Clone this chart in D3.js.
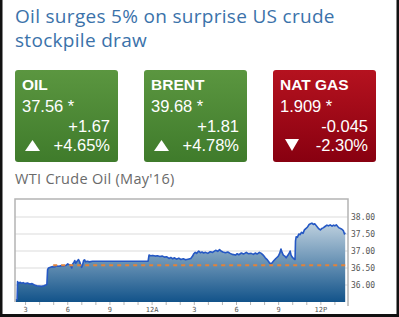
<!DOCTYPE html>
<html>
<head>
<meta charset="utf-8">
<script src="https://cdn.jsdelivr.net/npm/d3@7"></script>
<style>
  html, body { margin: 0; padding: 0; background: #fff; }
  svg { display: block; }
</style>
</head>
<body>
<svg id="chart" width="399" height="317"></svg>
<script>
// headline + quote cards
const titleLines = ['Oil surges 5% on surprise US crude', 'stockpile draw']
const tickers = ['OIL', 'BRENT', 'NAT GAS']
const lastPrices = ['37.56 *', '39.68 *', '1.909 *']
const netChanges = ['+1.67', '+1.81', '-0.045']
const pctChanges = ['+4.65%', '+4.78%', '-2.30%']
const directions = ['up', 'up', 'down']

// WTI intraday series (times 14:xx and later belong to the first day)
const chartTitle = "WTI Crude Oil (May'16)"
const times = [
  '14:20', '14:26', '14:28', '14:32', '14:38', '14:45', '14:52', '15:00', '15:10', '15:20',
  '15:30', '15:40', '15:50', '16:00', '16:10', '16:20', '16:28', '16:33', '16:36', '16:40',
  '16:48', '16:55', '17:05', '17:15', '17:25', '17:35', '17:45', '17:55', '18:02', '18:08',
  '18:14', '18:19', '18:23', '18:28', '18:32', '18:36', '18:42', '18:48', '18:53', '18:57',
  '19:01', '19:05', '19:10', '19:14', '19:18', '19:25', '19:35', '19:48', '23:45', '23:49',
  '23:55', '00:05', '00:15', '00:25', '00:35', '00:45', '00:55', '01:05', '01:14', '01:22',
  '01:30', '01:38', '01:46', '01:56', '02:05', '02:15', '02:25', '02:35', '02:47', '02:55',
  '03:00', '03:06', '03:12', '03:21', '03:28', '03:35', '03:42', '03:50', '04:00', '04:10',
  '04:20', '04:33', '04:42', '04:50', '04:56', '05:04', '05:15', '05:25', '05:35', '05:45',
  '05:58', '06:05', '06:12', '06:23', '06:32', '06:44', '06:52', '07:05', '07:14', '07:22',
  '07:30', '07:40', '07:48', '07:56', '08:05', '08:14', '08:22', '08:28', '08:35', '08:42',
  '08:50', '09:00', '09:06', '09:12', '09:17', '09:22', '09:28', '09:34', '09:40', '09:46',
  '09:51', '09:55', '10:00', '10:06', '10:12', '10:14', '10:17', '10:22', '10:28', '10:33',
  '10:40', '10:46', '10:52', '10:58', '11:05', '11:12', '11:18', '11:24', '11:30', '11:36',
  '11:42', '11:48', '11:54', '12:00', '12:06', '12:12', '12:20', '12:28', '12:35', '12:42',
  '12:50', '12:56', '13:02', '13:08', '13:14', '13:20', '13:26', '13:32', '13:38', '13:43',
  '13:46'
]
const prices = [
  35.55, 35.58, 36.10, 36.04, 36.08, 36.05, 36.07, 36.04, 36.06, 36.03,
  36.04, 36.00, 35.98, 35.97, 35.96, 35.98, 36.00, 36.02, 36.45, 36.50,
  36.52, 36.54, 36.53, 36.56, 36.55, 36.57, 36.56, 36.58, 36.62, 36.60,
  36.58, 36.50, 36.62, 36.66, 36.72, 36.64, 36.70, 36.75, 36.68, 36.60,
  36.52, 36.58, 36.72, 36.74, 36.68, 36.70, 36.68, 36.70, 36.70, 36.88,
  36.86, 36.87, 36.85, 36.86, 36.84, 36.85, 36.82, 36.83, 36.78, 36.81,
  36.77, 36.80, 36.76, 36.79, 36.75, 36.77, 36.74, 36.76, 36.78, 36.85,
  36.92, 36.96, 36.93, 37.00, 36.95, 36.97, 36.94, 36.96, 36.93, 36.98,
  36.96, 37.02, 36.99, 37.04, 37.00, 36.97, 36.95, 36.97, 36.93, 36.90,
  36.88, 36.92, 36.89, 36.94, 36.91, 36.96, 36.92, 36.93, 36.90, 36.94,
  36.91, 36.96, 36.93, 36.88, 36.80, 36.74, 36.66, 36.62, 36.66, 36.72,
  36.78, 36.84, 36.92, 37.06, 36.95, 36.88, 36.85, 36.80, 36.86, 36.92,
  37.00, 36.88, 36.82, 36.78, 36.75, 37.30, 37.42, 37.40, 37.50, 37.48,
  37.55, 37.52, 37.62, 37.66, 37.70, 37.78, 37.80, 37.82, 37.78, 37.80,
  37.75, 37.70, 37.65, 37.62, 37.66, 37.68, 37.72, 37.76, 37.74, 37.77,
  37.73, 37.76, 37.74, 37.77, 37.72, 37.68, 37.66, 37.64, 37.60, 37.50,
  37.54
]
const referencePrice = 36.58
const referenceStart = '17:00'
const yTicks = [36.0, 36.5, 37.0, 37.5, 38.0]

const svg = d3.select('#chart')
const W = 399, H = 317

// outer frame
svg.append('rect').attr('x', 0).attr('y', 0).attr('width', W).attr('height', H).attr('fill', '#fff')
svg.append('rect').attr('x', 0).attr('y', 0).attr('width', 2.5).attr('height', H).attr('fill', '#111')
svg.append('rect').attr('x', W - 2.5).attr('y', 0).attr('width', 2.5).attr('height', H).attr('fill', '#111')
svg.append('rect').attr('x', 0).attr('y', H - 3).attr('width', W).attr('height', 3).attr('fill', '#111')

// headline
svg.append('g').selectAll('text')
    .data(titleLines)
    .join('text')
    .attr('x', 15)
    .attr('y', (d, i) => 23 + i * 24)
    .attr('font-family', 'Open Sans, sans-serif')
    .attr('font-size', 19)
    .attr('letter-spacing', 0.3)
    .attr('fill', '#3b72aa')
    .text(d => d)

// gradients
const defs = svg.append('defs')
const grad = (id, top, bottom, y1, y2, units) => {
    const g = defs.append('linearGradient').attr('id', id)
        .attr('x1', 0).attr('x2', 0).attr('y1', y1).attr('y2', y2)
    if (units) g.attr('gradientUnits', units)
    g.append('stop').attr('offset', 0).attr('stop-color', top)
    g.append('stop').attr('offset', 1).attr('stop-color', bottom)
}
grad('gUp', '#5b9640', '#3f7b2b', 0, 1)
grad('gDown', '#b5121f', '#880010', 0, 1)

// quote cards
const cardX = d3.scalePoint().domain(tickers).range([15, 273])
const cardW = 103, cardH = 92, cardY = 70
const cards = svg.append('g').selectAll('g')
    .data(tickers)
    .join('g')
    .attr('transform', d => `translate(${cardX(d)},${cardY})`)

cards.append('rect')
    .attr('width', cardW).attr('height', cardH).attr('rx', 3)
    .attr('fill', (d, i) => directions[i] === 'up' ? 'url(#gUp)' : 'url(#gDown)')

const cardText = (sel, y, size, w, anchor, x) => sel.append('text')
    .attr('x', x).attr('y', y)
    .attr('text-anchor', anchor)
    .attr('font-family', 'Liberation Sans, Arial, sans-serif')
    .attr('font-weight', w)
    .attr('font-size', size)
    .attr('fill', '#fff')

cardText(cards, 20, 15.5, 700, 'start', 7).text(d => d)
cardText(cards, 42, 16.5, 400, 'start', 7).text((d, i) => lastPrices[i])
cardText(cards, 62, 16.5, 400, 'end', 95).text((d, i) => netChanges[i])
cardText(cards, 80.5, 16.5, 400, 'end', 95).text((d, i) => pctChanges[i])

cards.append('path')
    .attr('fill', '#fff')
    .attr('d', (d, i) => directions[i] === 'up'
        ? 'M10,81 L25,81 L17.5,70 Z'
        : 'M12,69 L26,69 L19,81 Z')

// chart title
svg.append('text')
    .attr('x', 15).attr('y', 184)
    .attr('font-family', 'Open Sans, sans-serif')
    .attr('font-size', 14.5)
    .attr('letter-spacing', 0.3)
    .attr('fill', '#6a6a6a')
    .text(chartTitle)

// price chart
const plot = { left: 15, right: 348, top: 199, bottom: 302 }
const toDate = t => {
    const [h, m] = t.split(':').map(Number)
    return new Date(2016, 2, h >= 14 ? 22 : 23, h, m)
}
const series = times.map((t, i) => ({ date: toDate(t), value: prices[i] }))

const x = d3.scaleTime()
    .domain([new Date(2016, 2, 22, 14, 17), new Date(2016, 2, 23, 13, 58)])
    .range([plot.left, plot.right])
const y = d3.scaleLinear()
    .domain([36 - 17 / 34, 38 + 18 / 34])
    .range([plot.bottom, plot.top])

grad('gArea', '#cbdae5', '#12538a', y(38), plot.bottom, 'userSpaceOnUse')

// gridlines
svg.append('g').selectAll('line')
    .data(yTicks)
    .join('line')
    .attr('x1', plot.left).attr('x2', plot.right)
    .attr('y1', d => y(d)).attr('y2', d => y(d))
    .attr('stroke', '#dcdcdc').attr('stroke-width', 1.2)

// area + line
svg.append('path')
    .datum(series)
    .attr('fill', 'url(#gArea)')
    .attr('d', d3.area().x(d => x(d.date)).y0(plot.bottom).y1(d => y(d.value)))
svg.append('path')
    .datum(series)
    .attr('fill', 'none')
    .attr('stroke', '#2558c4')
    .attr('stroke-width', 1.6)
    .attr('stroke-linejoin', 'round')
    .attr('d', d3.line().x(d => x(d.date)).y(d => y(d.value)))

// previous close reference
svg.append('line')
    .attr('x1', x(toDate(referenceStart))).attr('x2', plot.right)
    .attr('y1', y(referencePrice)).attr('y2', y(referencePrice))
    .attr('stroke', '#e2823a').attr('stroke-width', 2)
    .attr('stroke-dasharray', '4,4')

// frame
svg.append('path')
    .attr('d', `M${plot.left},${plot.bottom}V${plot.top}H${plot.right}V${plot.bottom + 4}`)
    .attr('fill', 'none').attr('stroke', '#b4b4b4').attr('stroke-width', 1.5)

// y axis labels
svg.append('g').selectAll('text')
    .data(yTicks)
    .join('text')
    .attr('x', 351).attr('y', d => y(d) + 3)
    .attr('font-family', 'DejaVu Sans Mono, monospace')
    .attr('font-size', 8)
    .attr('fill', '#555')
    .text(d => d.toFixed(2))

// x axis
const xAxis = d3.axisBottom(x)
    .ticks(d3.timeHour.every(1))
    .tickSize(3)
    .tickFormat(d => {
        const h = d.getHours()
        if (h % 3 !== 0) return ''
        if (h === 0) return '12A'
        if (h === 12) return '12P'
        return h % 12
    })
const gx = svg.append('g')
    .attr('transform', `translate(0,${plot.bottom})`)
    .call(xAxis)
gx.select('.domain').remove()
gx.selectAll('line').attr('stroke', '#b4b4b4')
gx.selectAll('text')
    .attr('font-family', 'DejaVu Sans Mono, monospace')
    .attr('font-size', 7)
    .attr('fill', '#555')
    .attr('dy', '0.55em')
</script>
</body>
</html>
